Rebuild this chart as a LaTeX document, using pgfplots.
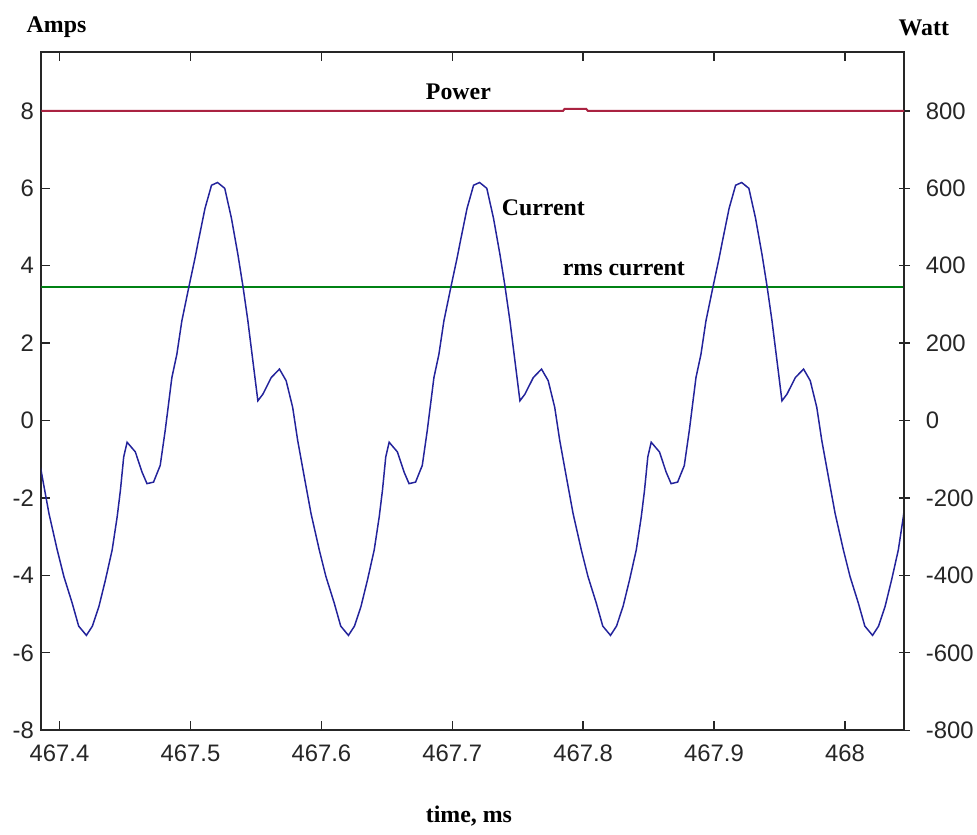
\documentclass[border=0pt]{standalone}
\usepackage{pgfplots}
\pgfplotsset{compat=1.18}
\usepackage{pgfplotstable}
\usepackage{fontspec}
\setmainfont{Liberation Serif}
\newfontfamily\ticksans{Liberation Sans}

\definecolor{curblue}{RGB}{35,35,155}
\definecolor{rmsgreen}{RGB}{0,130,20}
\definecolor{powred}{RGB}{170,35,65}

% current waveform, amps vs time in ms
\pgfplotstableread{
t        i
467.3779  0.34
467.3817 -0.51
467.3868 -1.46
467.3919 -2.40
467.3982 -3.34
467.4033 -4.03
467.4096 -4.71
467.4146 -5.31
467.4205 -5.55
467.4251 -5.31
467.4301 -4.80
467.4351 -4.11
467.4402 -3.34
467.4440 -2.49
467.4465 -1.80
467.4490 -0.94
467.4516 -0.56
467.4579 -0.81
467.4630 -1.33
467.4668 -1.63
467.4718 -1.59
467.4769 -1.16
467.4807 -0.26
467.4858  1.11
467.4896  1.71
467.4934  2.57
467.4989  3.47
467.5035  4.20
467.5060  4.63
467.5111  5.48
467.5161  6.08
467.5207  6.15
467.5262  6.00
467.5313  5.23
467.5363  4.28
467.5401  3.47
467.5439  2.57
467.5477  1.54
467.5515  0.51
467.5553  0.68
467.5617  1.11
467.5680  1.33
467.5731  1.03
467.5781  0.34
467.5819 -0.51
467.5870 -1.46
467.5921 -2.40
467.5984 -3.34
467.6035 -4.03
467.6098 -4.71
467.6148 -5.31
467.6207 -5.55
467.6253 -5.31
467.6303 -4.80
467.6353 -4.11
467.6404 -3.34
467.6442 -2.49
467.6467 -1.80
467.6492 -0.94
467.6518 -0.56
467.6581 -0.81
467.6632 -1.33
467.6670 -1.63
467.6720 -1.59
467.6771 -1.16
467.6809 -0.26
467.6860  1.11
467.6898  1.71
467.6936  2.57
467.6991  3.47
467.7037  4.20
467.7062  4.63
467.7113  5.48
467.7163  6.08
467.7209  6.15
467.7264  6.00
467.7315  5.23
467.7365  4.28
467.7403  3.47
467.7441  2.57
467.7479  1.54
467.7517  0.51
467.7555  0.68
467.7619  1.11
467.7682  1.33
467.7733  1.03
467.7783  0.34
467.7821 -0.51
467.7872 -1.46
467.7923 -2.40
467.7986 -3.34
467.8037 -4.03
467.8100 -4.71
467.8150 -5.31
467.8209 -5.55
467.8255 -5.31
467.8305 -4.80
467.8355 -4.11
467.8406 -3.34
467.8444 -2.49
467.8469 -1.80
467.8494 -0.94
467.8520 -0.56
467.8583 -0.81
467.8634 -1.33
467.8672 -1.63
467.8722 -1.59
467.8773 -1.16
467.8811 -0.26
467.8862  1.11
467.8900  1.71
467.8938  2.57
467.8993  3.47
467.9039  4.20
467.9064  4.63
467.9115  5.48
467.9165  6.08
467.9211  6.15
467.9266  6.00
467.9317  5.23
467.9367  4.28
467.9405  3.47
467.9443  2.57
467.9481  1.54
467.9519  0.51
467.9557  0.68
467.9621  1.11
467.9684  1.33
467.9735  1.03
467.9785  0.34
467.9823 -0.51
467.9874 -1.46
467.9925 -2.40
467.9988 -3.34
468.0039 -4.03
468.0102 -4.71
468.0152 -5.31
468.0211 -5.55
468.0257 -5.31
468.0307 -4.80
468.0357 -4.11
468.0408 -3.34
468.0446 -2.49
468.0471 -1.80
}\currentdata

\pgfplotsset{
  base/.style={
    width=868.4pt, height=683pt, scale only axis,
    xmin=467.3861, xmax=468.0452,
    scaled x ticks=false, scaled y ticks=false,
    /pgf/number format/assume math mode=true,
    ticklabel style={font=\ticksans\fontsize{24}{24}\selectfont, text=black!85},
    axis line style={line width=1.8pt, black!85},
    every tick/.style={line width=1.4pt, black!85},
  },
}

\begin{document}
\begin{tikzpicture}
\begin{axis}[base,
    ymin=-8, ymax=9.53,
    xtick={467.4,467.5,467.6,467.7,467.8,467.9,468},
    ytick={-8,-6,-4,-2,0,2,4,6,8},
    tick align=inside, major tick length=9pt,
    xtick pos=both, xticklabel pos=bottom, ytick pos=left,
    x tick label style={/pgf/number format/fixed, /pgf/number format/precision=1, yshift=-11pt},
    y tick label style={xshift=-4pt},
    clip mode=individual,
]
\addplot[rmsgreen, line width=1.8pt] coordinates {(467.3861,3.46) (468.0452,3.46)};
\addplot[curblue, line width=1.5pt] table[x=t, y=i] {\currentdata};

\node[font=\bfseries\fontsize{24}{24}\selectfont] at (axis cs:467.7047,8.50) {Power};
\node[font=\bfseries\fontsize{24}{24}\selectfont] at (axis cs:467.7696,5.50) {Current};
\node[font=\bfseries\fontsize{24}{24}\selectfont] at (axis cs:467.8311,3.91) {rms current};
\node[font=\bfseries\fontsize{24}{24}\selectfont] at (axis cs:467.3977,10.17) {Amps};
\node[font=\bfseries\fontsize{24}{24}\selectfont] at (axis cs:468.0603,10.15) {Watt};
\node[font=\bfseries\fontsize{24}{24}\selectfont] at (axis cs:467.7127,-10.23) {time, ms};

\coordinate (bbA) at (axis cs:467.3545,10.865);
\coordinate (bbB) at (axis cs:468.0960,-10.696);
\end{axis}

\begin{axis}[base,
    ymin=-800, ymax=953,
    axis x line=none, axis y line*=right,
    ytick={-800,-600,-400,-200,0,200,400,600,800},
    tick align=center, major tick length=11pt,
    y tick label style={xshift=13pt},
    clip mode=individual,
]
\addplot[powred, line width=2pt] coordinates {
  (467.3861,800) (467.7846,800) (467.7858,805) (467.8024,805) (467.8036,800) (468.0452,800)};
\end{axis}
\path (bbA) rectangle (bbB);
\end{tikzpicture}
\end{document}
